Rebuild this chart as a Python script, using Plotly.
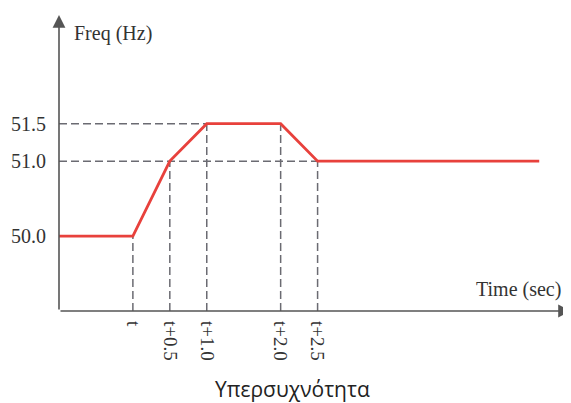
import plotly.graph_objects as go

# Data (time in seconds relative to t, frequency in Hz)
times = [-1.0, 0.0, 0.5, 1.0, 2.0, 2.5, 5.5]
freqs = [50.0, 50.0, 51.0, 51.5, 51.5, 51.0, 51.0]

x_tick_vals = [0.0, 0.5, 1.0, 2.0, 2.5]
x_tick_text = ["t", "t+0.5", "t+1.0", "t+2.0", "t+2.5"]
y_tick_vals = [50.0, 51.0, 51.5]
y_tick_text = ["50.0", "51.0", "51.5"]

X_MIN, X_MAX = -1.0, 5.93
Y_MIN, Y_MAX = 49.0, 52.95

RED = "#e8413c"
DASH = "#6b6b72"
AXIS = "#555555"
SERIF = "Liberation Serif, Times New Roman, serif"

fig = go.Figure()

# dashed guide lines built from breakpoints
guide_x, guide_y = [], []
# vertical guides from x-axis up to each breakpoint
for tx, fy in zip(times[1:6], freqs[1:6]):
    guide_x += [tx, tx, None]
    guide_y += [Y_MIN, fy, None]
# horizontal guides from y-axis to the last breakpoint at that level
for lvl in [51.0, 51.5]:
    xs = [tx for tx, fy in zip(times[1:6], freqs[1:6]) if fy == lvl]
    guide_x += [X_MIN, max(xs), None]
    guide_y += [lvl, lvl, None]

fig.add_trace(go.Scatter(x=guide_x, y=guide_y, mode="lines",
                         line=dict(color=DASH, width=1.5, dash="8px,4px"),
                         hoverinfo="skip", showlegend=False))

fig.add_trace(go.Scatter(x=times, y=freqs, mode="lines",
                         line=dict(color=RED, width=2.8),
                         showlegend=False))

# axes with arrowheads
fig.add_annotation(x=X_MAX, y=Y_MIN, ax=X_MIN, ay=Y_MIN, xref="x", yref="y",
                   axref="x", ayref="y", showarrow=True, arrowhead=2,
                   arrowsize=1.6, arrowwidth=1.6, arrowcolor=AXIS, text="")
fig.add_annotation(x=X_MIN, y=Y_MAX, ax=X_MIN, ay=Y_MIN, xref="x", yref="y",
                   axref="x", ayref="y", showarrow=True, arrowhead=2,
                   arrowsize=1.6, arrowwidth=1.6, arrowcolor=AXIS, text="")

fig.add_annotation(x=0.0254, y=0.939, xref="paper", yref="paper",
                   text="Freq (Hz)", showarrow=False, xanchor="left", yanchor="middle",
                   font=dict(family=SERIF, size=20, color="#333333"))
fig.add_annotation(x=0.984, y=0.071, xref="paper", yref="paper",
                   text="Time (sec)", showarrow=False, xanchor="right", yanchor="middle",
                   font=dict(family=SERIF, size=20, color="#333333"))
fig.add_annotation(x=0.457, y=-0.262, xref="paper", yref="paper",
                   text="Υπερσυχνότητα", showarrow=False, xanchor="center", yanchor="middle",
                   font=dict(family="Open Sans, Noto Sans, sans-serif", size=21, color="#222222"))

# page body has an 8px margin, so the figure is sized/offset to compensate
fig.update_layout(
    width=563, height=395,
    margin=dict(l=51, r=0, t=7, b=92),
    paper_bgcolor="white", plot_bgcolor="white",
    xaxis=dict(range=[X_MIN, X_MAX], showgrid=False, zeroline=False, showline=False,
               tickmode="array", tickvals=x_tick_vals, ticktext=x_tick_text,
               tickangle=90, ticks="", ticklabelstandoff=9,
               tickfont=dict(family=SERIF, size=19, color="#333333")),
    yaxis=dict(range=[Y_MIN, Y_MAX], showgrid=False, zeroline=False, showline=False,
               tickmode="array", tickvals=y_tick_vals, ticktext=y_tick_text,
               ticks="", ticklabelstandoff=12,
               tickfont=dict(family=SERIF, size=20, color="#333333")),
)

fig.write_html("out.html")
